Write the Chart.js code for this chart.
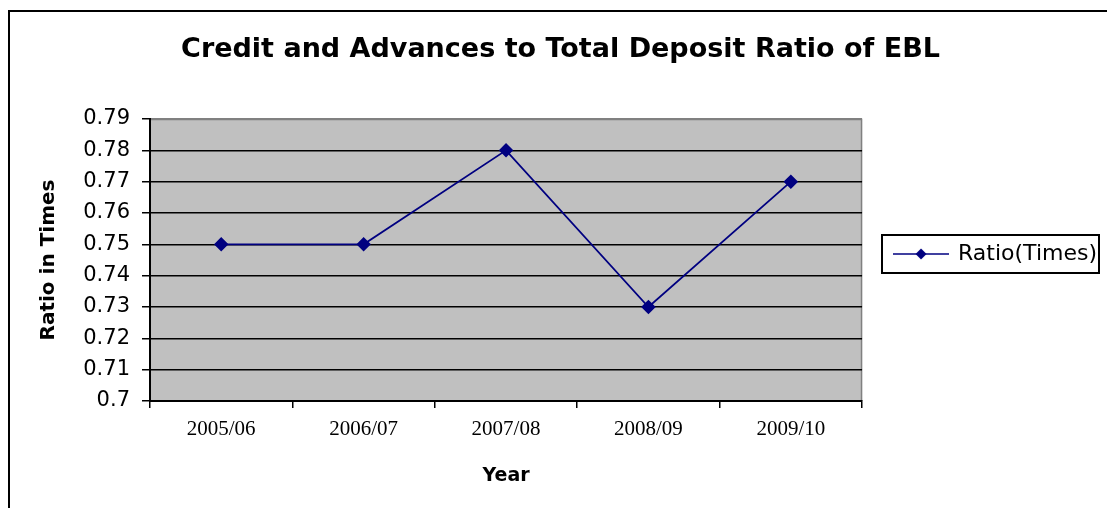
<!DOCTYPE html>
<html>
<head>
<meta charset="utf-8">
<script src="https://cdn.jsdelivr.net/npm/chart.js@4"></script>
<style>
  html, body { margin: 0; padding: 0; background: #fff; }
  #wrap { width: 1107px; height: 508px; }
</style>
</head>
<body>
<div id="wrap"><canvas id="ratioChart"></canvas></div>
<script>
// data
var years = ['2005/06', '2006/07', '2007/08', '2008/09', '2009/10'];
var ratios = [0.75, 0.75, 0.78, 0.73, 0.77];
var yMin = 0.7;
var yMax = 0.79;
var yStep = 0.01;

var lineColor = '#000080';
var sansFont = 'DejaVu Sans';

// legend symbol: line with a diamond in the middle
var legendSymbol = document.createElement('canvas');
legendSymbol.width = 56;
legendSymbol.height = 14;
(function () {
    var c = legendSymbol.getContext('2d');
    c.strokeStyle = lineColor;
    c.lineWidth = 1.5;
    c.beginPath();
    c.moveTo(0, 7);
    c.lineTo(56, 7);
    c.stroke();
    c.fillStyle = lineColor;
    c.beginPath();
    c.moveTo(28, 1.5);
    c.lineTo(33.5, 7);
    c.lineTo(28, 12.5);
    c.lineTo(22.5, 7);
    c.closePath();
    c.fill();
})();

// white page, outer frame, grey plot area, legend frame
var framePlugin = {
    id: 'frame',
    beforeDraw: function (chart) {
        var ctx = chart.ctx;
        var a = chart.chartArea;
        ctx.save();
        ctx.fillStyle = '#fff';
        ctx.fillRect(0, 0, chart.width, chart.height);
        ctx.strokeStyle = '#000';
        ctx.lineWidth = 2;
        ctx.strokeRect(9, 11, chart.width + 20, chart.height + 20);
        ctx.fillStyle = '#c0c0c0';
        ctx.fillRect(a.left, a.top, a.right - a.left, a.bottom - a.top);
        ctx.strokeStyle = '#808080';
        ctx.lineWidth = 1.5;
        ctx.beginPath();
        ctx.moveTo(a.left, a.top + 0.5);
        ctx.lineTo(a.right - 0.5, a.top + 0.5);
        ctx.lineTo(a.right - 0.5, a.bottom);
        ctx.stroke();
        ctx.restore();
    },
    afterDraw: function (chart) {
        var lg = chart.legend;
        if (!lg || !lg.legendHitBoxes || !lg.legendHitBoxes.length) return;
        var hb = lg.legendHitBoxes[0];
        var ctx = chart.ctx;
        ctx.save();
        ctx.strokeStyle = '#000';
        ctx.lineWidth = 2;
        ctx.strokeRect(882, hb.top + hb.height / 2 - 19, 217, 38);
        ctx.restore();
    }
};

var ctx = document.getElementById('ratioChart').getContext('2d');
var ratioChart = new Chart(ctx, {
    type: 'line',
    data: {
        labels: years,
        datasets: [{
            label: 'Ratio(Times)',
            data: ratios,
            borderColor: lineColor,
            backgroundColor: lineColor,
            borderWidth: 1.8,
            pointStyle: 'rectRot',
            pointRadius: 6,
            pointBackgroundColor: lineColor,
            pointBorderColor: lineColor,
            tension: 0
        }]
    },
    options: {
        responsive: true,
        maintainAspectRatio: false,
        animation: false,
        devicePixelRatio: 1,
        layout: {
            padding: { left: 14, right: 0, top: 0, bottom: 0 }
        },
        plugins: {
            title: {
                display: true,
                text: 'Credit and Advances to Total Deposit Ratio of EBL',
                color: '#000',
                font: { family: sansFont, size: 27, weight: 'bold' },
                padding: { top: 34, bottom: 52.6 }
            },
            legend: {
                display: true,
                position: 'right',
                maxWidth: 247,
                labels: {
                    color: '#000',
                    font: { family: sansFont, size: 22 },
                    usePointStyle: true,
                    pointStyleWidth: 52,
                    padding: 33,
                    generateLabels: function (chart) {
                        var ds = chart.data.datasets[0];
                        return [{
                            text: ds.label,
                            pointStyle: legendSymbol,
                            fillStyle: lineColor,
                            strokeStyle: lineColor,
                            lineWidth: 0,
                            datasetIndex: 0,
                            fontColor: '#000'
                        }];
                    }
                }
            },
            tooltip: { enabled: false }
        },
        scales: {
            x: {
                offset: true,
                afterFit: function (scale) { scale.height = 107; },
                grid: {
                    offset: true,
                    drawOnChartArea: false,
                    drawTicks: true,
                    tickLength: 7,
                    color: '#000',
                    lineWidth: 1.5
                },
                border: { color: '#000', width: 2 },
                ticks: {
                    color: '#000',
                    font: { family: 'Liberation Serif', size: 21 },
                    padding: 9,
                    maxRotation: 0
                },
                title: {
                    display: true,
                    text: 'Year',
                    color: '#000',
                    font: { family: sansFont, size: 19, weight: 'bold' },
                    padding: { top: 10, bottom: 21 }
                }
            },
            y: {
                min: yMin,
                max: yMax,
                afterFit: function (scale) { scale.width = 136; },
                grid: {
                    color: function (c) {
                        return c.index === 9 ? '#808080' : '#000';
                    },
                    lineWidth: 1.5,
                    drawTicks: true,
                    tickLength: 8,
                    tickColor: '#000'
                },
                border: { color: '#000', width: 2 },
                ticks: {
                    stepSize: yStep,
                    color: '#000',
                    font: { family: sansFont, size: 21 },
                    padding: 12,
                    callback: function (v) {
                        return String(Math.round(v * 100) / 100);
                    }
                },
                title: {
                    display: true,
                    text: 'Ratio in Times',
                    color: '#000',
                    font: { family: sansFont, size: 20, weight: 'bold' },
                    padding: { top: 23, bottom: 10 }
                }
            }
        }
    },
    plugins: [framePlugin]
});
</script>
</body>
</html>
